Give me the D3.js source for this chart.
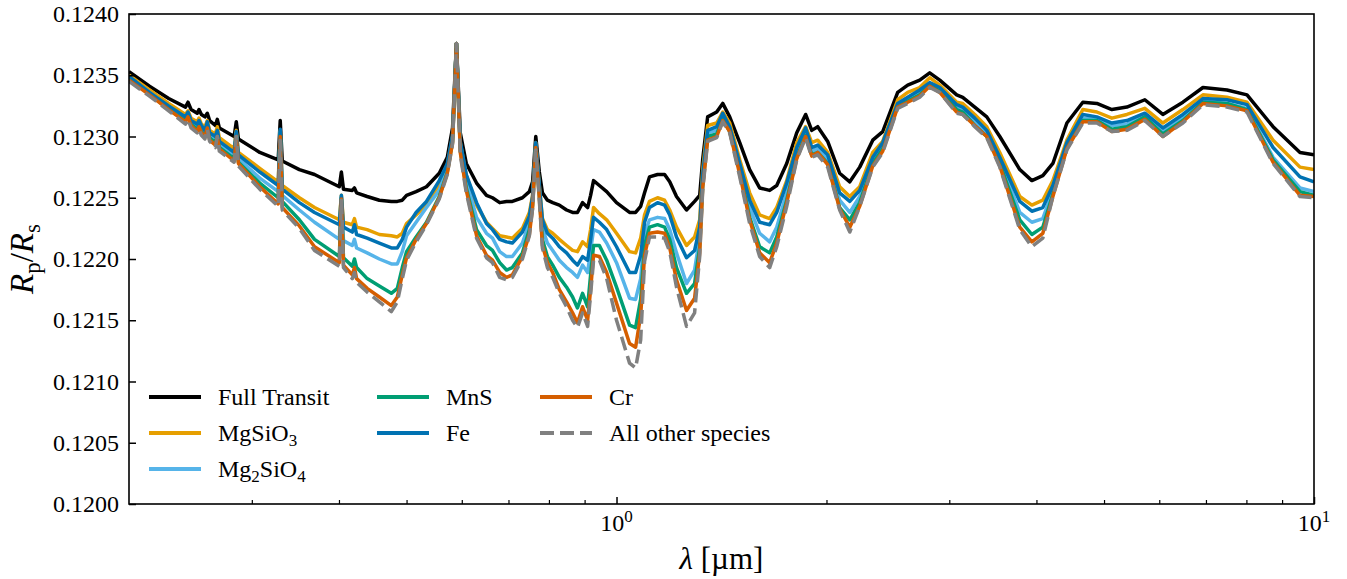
<!DOCTYPE html>
<html>
<head>
<meta charset="utf-8">
<script src="https://cdn.jsdelivr.net/npm/d3@7"></script>
<style>
  body { margin: 0; background: #fff; }
  svg text { font-family: "Liberation Serif", "Times New Roman", serif; fill: #000; }
</style>
</head>
<body>
<svg id="chart" width="1347" height="579"></svg>
<script>
// wavelength grid (micron)
var wavelengths = [0.2, 0.214, 0.228, 0.241, 0.243, 0.2455, 0.2505, 0.252, 0.254, 0.257,
  0.259, 0.261, 0.266, 0.2677, 0.2695, 0.283, 0.285, 0.287, 0.308, 0.3273,
  0.3295, 0.3317, 0.351, 0.369, 0.4005, 0.4032, 0.406, 0.418, 0.421, 0.424,
  0.439, 0.457, 0.4755, 0.485, 0.493, 0.5, 0.516, 0.534, 0.557, 0.572,
  0.582, 0.5895, 0.597, 0.609, 0.63, 0.651, 0.664, 0.68, 0.6955, 0.709,
  0.733, 0.75, 0.758, 0.766, 0.775, 0.783, 0.796, 0.81, 0.828, 0.848,
  0.865, 0.879, 0.894, 0.909, 0.918, 0.927, 0.945, 0.968, 1.0, 1.044,
  1.065, 1.083, 1.097, 1.115, 1.145, 1.172, 1.192, 1.219, 1.26, 1.294,
  1.316, 1.329, 1.351, 1.392, 1.42, 1.453, 1.502, 1.552, 1.604, 1.658,
  1.697, 1.754, 1.813, 1.867, 1.905, 1.943, 2.008, 2.089, 2.16, 2.232,
  2.33, 2.408, 2.53, 2.615, 2.721, 2.812, 2.907, 3.074, 3.136, 3.263,
  3.395, 3.544, 3.786, 3.94, 4.085, 4.223, 4.423, 4.662, 4.883, 5.131,
  5.392, 5.721, 6.071, 6.487, 6.931, 7.503, 8.016, 8.736, 9.548, 10.0];

var fullTransit = [0.12353, 0.12341, 0.12331, 0.12324, 0.12328, 0.12322, 0.12319, 0.12322, 0.12318, 0.12316,
  0.12319, 0.12313, 0.12309, 0.12314, 0.12307, 0.12300, 0.12312, 0.12298, 0.12287, 0.12281,
  0.12313, 0.12280, 0.12273, 0.12269, 0.12259, 0.12271, 0.12257, 0.12256, 0.12258, 0.12254,
  0.12251, 0.12248, 0.12247, 0.12247, 0.12248, 0.12252, 0.12255, 0.12259, 0.12270, 0.12283,
  0.12307, 0.12376, 0.12303, 0.12278, 0.12262, 0.12252, 0.12250, 0.12246, 0.12247, 0.12247,
  0.12250, 0.12255, 0.12263, 0.12300, 0.12271, 0.12254, 0.12248, 0.12246, 0.12244, 0.12240,
  0.12238, 0.12238, 0.12246, 0.12242, 0.12252, 0.12264, 0.12260, 0.12255, 0.12246, 0.12238,
  0.12238, 0.12243, 0.12254, 0.12267, 0.12269, 0.12269, 0.12263, 0.12251, 0.12240, 0.12247,
  0.12252, 0.12281, 0.12316, 0.12320, 0.12327, 0.12316, 0.12295, 0.12273, 0.12258, 0.12256,
  0.12260, 0.12278, 0.12303, 0.12318, 0.12305, 0.12308, 0.12296, 0.12270, 0.12263, 0.12275,
  0.12297, 0.12304, 0.12336, 0.12342, 0.12346, 0.12352, 0.12346, 0.12334, 0.12332, 0.12324,
  0.12316, 0.12300, 0.12273, 0.12264, 0.12268, 0.12278, 0.12311, 0.12328, 0.12327, 0.12322,
  0.12324, 0.12330, 0.12318, 0.12328, 0.12340, 0.12338, 0.12334, 0.12308, 0.12287, 0.12285];

var mgsio3 = [0.12350, 0.12338, 0.12327, 0.12318, 0.12321, 0.12315, 0.12312, 0.12315, 0.12310, 0.12308,
  0.12313, 0.12305, 0.12302, 0.12308, 0.12299, 0.12290, 0.12305, 0.12287, 0.12274, 0.12263,
  0.12305, 0.12260, 0.12250, 0.12242, 0.12232, 0.12252, 0.12230, 0.12228, 0.12233, 0.12226,
  0.12224, 0.12220, 0.12219, 0.12218, 0.12221, 0.12229, 0.12236, 0.12244, 0.12261, 0.12277,
  0.12300, 0.12376, 0.12295, 0.12268, 0.12244, 0.12230, 0.12225, 0.12219, 0.12218, 0.12217,
  0.12225, 0.12238, 0.12252, 0.12295, 0.12260, 0.12233, 0.12224, 0.12221, 0.12216, 0.12211,
  0.12207, 0.12206, 0.12214, 0.12210, 0.12224, 0.12242, 0.12237, 0.12232, 0.12221, 0.12206,
  0.12205, 0.12217, 0.12236, 0.12247, 0.12250, 0.12248, 0.12240, 0.12226, 0.12211, 0.12218,
  0.12232, 0.12273, 0.12309, 0.12311, 0.12320, 0.12311, 0.12281, 0.12254, 0.12236, 0.12233,
  0.12242, 0.12264, 0.12295, 0.12308, 0.12295, 0.12297, 0.12287, 0.12259, 0.12251, 0.12259,
  0.12287, 0.12296, 0.12330, 0.12336, 0.12340, 0.12348, 0.12342, 0.12328, 0.12327, 0.12318,
  0.12308, 0.12287, 0.12251, 0.12244, 0.12248, 0.12264, 0.12297, 0.12322, 0.12320, 0.12315,
  0.12318, 0.12323, 0.12311, 0.12322, 0.12334, 0.12332, 0.12328, 0.12297, 0.12275, 0.12273];

var mg2sio4 = [0.12348, 0.12336, 0.12324, 0.12314, 0.12318, 0.12312, 0.12309, 0.12312, 0.12307, 0.12304,
  0.12309, 0.12301, 0.12297, 0.12303, 0.12294, 0.12284, 0.12303, 0.12282, 0.12266, 0.12255,
  0.12304, 0.12252, 0.12240, 0.12230, 0.12216, 0.12251, 0.12215, 0.12211, 0.12216, 0.12209,
  0.12205, 0.12200, 0.12196, 0.12196, 0.12206, 0.12219, 0.12230, 0.12242, 0.12256, 0.12274,
  0.12298, 0.12376, 0.12292, 0.12264, 0.12234, 0.12221, 0.12217, 0.12206, 0.12202, 0.12202,
  0.12213, 0.12230, 0.12248, 0.12293, 0.12256, 0.12225, 0.12213, 0.12207, 0.12199, 0.12193,
  0.12189, 0.12185, 0.12195, 0.12189, 0.12207, 0.12224, 0.12222, 0.12213, 0.12197, 0.12168,
  0.12167, 0.12184, 0.12220, 0.12232, 0.12234, 0.12233, 0.12224, 0.12205, 0.12180, 0.12191,
  0.12218, 0.12264, 0.12303, 0.12305, 0.12317, 0.12306, 0.12276, 0.12242, 0.12221, 0.12214,
  0.12226, 0.12254, 0.12287, 0.12304, 0.12287, 0.12291, 0.12281, 0.12248, 0.12238, 0.12251,
  0.12281, 0.12291, 0.12326, 0.12331, 0.12336, 0.12343, 0.12338, 0.12323, 0.12322, 0.12312,
  0.12302, 0.12281, 0.12238, 0.12230, 0.12233, 0.12256, 0.12292, 0.12315, 0.12314, 0.12309,
  0.12310, 0.12318, 0.12304, 0.12315, 0.12329, 0.12327, 0.12323, 0.12283, 0.12258, 0.12255];

var mns = [0.12347, 0.12335, 0.12322, 0.12313, 0.12317, 0.12310, 0.12306, 0.12309, 0.12304, 0.12301,
  0.12308, 0.12299, 0.12295, 0.12301, 0.12291, 0.12282, 0.12302, 0.12279, 0.12262, 0.12250,
  0.12303, 0.12247, 0.12232, 0.12216, 0.12202, 0.12250, 0.12201, 0.12194, 0.12200, 0.12193,
  0.12184, 0.12178, 0.12172, 0.12176, 0.12193, 0.12206, 0.12218, 0.12230, 0.12251, 0.12271,
  0.12296, 0.12376, 0.12289, 0.12258, 0.12224, 0.12211, 0.12207, 0.12197, 0.12191, 0.12193,
  0.12205, 0.12224, 0.12244, 0.12291, 0.12252, 0.12216, 0.12202, 0.12195, 0.12185, 0.12177,
  0.12169, 0.12160, 0.12172, 0.12161, 0.12187, 0.12211, 0.12211, 0.12199, 0.12177, 0.12146,
  0.12144, 0.12167, 0.12211, 0.12226, 0.12228, 0.12226, 0.12216, 0.12193, 0.12172, 0.12180,
  0.12210, 0.12260, 0.12300, 0.12302, 0.12315, 0.12304, 0.12272, 0.12234, 0.12210, 0.12205,
  0.12218, 0.12248, 0.12283, 0.12301, 0.12285, 0.12287, 0.12278, 0.12242, 0.12232, 0.12246,
  0.12278, 0.12290, 0.12325, 0.12329, 0.12334, 0.12342, 0.12337, 0.12322, 0.12320, 0.12309,
  0.12300, 0.12278, 0.12232, 0.12220, 0.12226, 0.12253, 0.12291, 0.12313, 0.12313, 0.12306,
  0.12308, 0.12316, 0.12302, 0.12313, 0.12328, 0.12327, 0.12322, 0.12281, 0.12255, 0.12252];

var fe = [0.12349, 0.12336, 0.12325, 0.12316, 0.12320, 0.12313, 0.12310, 0.12313, 0.12309, 0.12305,
  0.12312, 0.12303, 0.12300, 0.12305, 0.12296, 0.12287, 0.12304, 0.12285, 0.12271, 0.12260,
  0.12306, 0.12257, 0.12246, 0.12238, 0.12228, 0.12252, 0.12226, 0.12222, 0.12228, 0.12220,
  0.12217, 0.12213, 0.12209, 0.12209, 0.12216, 0.12226, 0.12238, 0.12247, 0.12264, 0.12278,
  0.12301, 0.12376, 0.12296, 0.12269, 0.12246, 0.12229, 0.12224, 0.12216, 0.12214, 0.12213,
  0.12222, 0.12235, 0.12251, 0.12295, 0.12260, 0.12232, 0.12221, 0.12217, 0.12210, 0.12205,
  0.12199, 0.12195, 0.12202, 0.12199, 0.12216, 0.12234, 0.12230, 0.12224, 0.12210, 0.12189,
  0.12189, 0.12203, 0.12230, 0.12242, 0.12246, 0.12244, 0.12236, 0.12218, 0.12201, 0.12207,
  0.12226, 0.12269, 0.12305, 0.12308, 0.12319, 0.12308, 0.12278, 0.12248, 0.12230, 0.12228,
  0.12238, 0.12262, 0.12291, 0.12307, 0.12291, 0.12293, 0.12285, 0.12254, 0.12247, 0.12256,
  0.12283, 0.12295, 0.12327, 0.12332, 0.12338, 0.12344, 0.12340, 0.12326, 0.12324, 0.12315,
  0.12305, 0.12283, 0.12247, 0.12239, 0.12242, 0.12260, 0.12295, 0.12318, 0.12316, 0.12311,
  0.12313, 0.12319, 0.12307, 0.12318, 0.12331, 0.12330, 0.12326, 0.12291, 0.12267, 0.12263];

var cr = [0.12346, 0.12334, 0.12322, 0.12312, 0.12316, 0.12309, 0.12304, 0.12308, 0.12303, 0.12300,
  0.12307, 0.12297, 0.12293, 0.12300, 0.12290, 0.12280, 0.12300, 0.12278, 0.12259, 0.12245,
  0.12300, 0.12242, 0.12227, 0.12210, 0.12197, 0.12249, 0.12195, 0.12187, 0.12193, 0.12184,
  0.12176, 0.12169, 0.12162, 0.12169, 0.12187, 0.12201, 0.12216, 0.12229, 0.12250, 0.12270,
  0.12295, 0.12376, 0.12287, 0.12256, 0.12219, 0.12203, 0.12199, 0.12189, 0.12185, 0.12187,
  0.12202, 0.12220, 0.12242, 0.12291, 0.12250, 0.12211, 0.12197, 0.12189, 0.12175, 0.12165,
  0.12156, 0.12148, 0.12161, 0.12150, 0.12175, 0.12203, 0.12202, 0.12189, 0.12164, 0.12131,
  0.12128, 0.12154, 0.12203, 0.12221, 0.12222, 0.12221, 0.12209, 0.12183, 0.12158, 0.12168,
  0.12205, 0.12258, 0.12297, 0.12300, 0.12313, 0.12304, 0.12269, 0.12232, 0.12205, 0.12197,
  0.12213, 0.12246, 0.12282, 0.12300, 0.12284, 0.12287, 0.12277, 0.12241, 0.12226, 0.12243,
  0.12276, 0.12288, 0.12324, 0.12328, 0.12333, 0.12341, 0.12336, 0.12320, 0.12318, 0.12309,
  0.12300, 0.12276, 0.12226, 0.12214, 0.12221, 0.12251, 0.12290, 0.12312, 0.12312, 0.12304,
  0.12306, 0.12314, 0.12300, 0.12312, 0.12327, 0.12325, 0.12321, 0.12279, 0.12252, 0.12251];

var allOther = [0.12345, 0.12333, 0.12321, 0.12310, 0.12314, 0.12307, 0.12303, 0.12306, 0.12301, 0.12298,
  0.12306, 0.12296, 0.12291, 0.12300, 0.12288, 0.12279, 0.12300, 0.12276, 0.12257, 0.12243,
  0.12297, 0.12240, 0.12225, 0.12207, 0.12194, 0.12248, 0.12193, 0.12184, 0.12189, 0.12181,
  0.12173, 0.12165, 0.12157, 0.12165, 0.12184, 0.12199, 0.12214, 0.12228, 0.12249, 0.12269,
  0.12294, 0.12376, 0.12285, 0.12254, 0.12217, 0.12201, 0.12197, 0.12185, 0.12183, 0.12185,
  0.12200, 0.12219, 0.12241, 0.12289, 0.12248, 0.12209, 0.12193, 0.12185, 0.12172, 0.12161,
  0.12150, 0.12144, 0.12156, 0.12145, 0.12171, 0.12199, 0.12199, 0.12184, 0.12150, 0.12115,
  0.12111, 0.12134, 0.12198, 0.12218, 0.12218, 0.12217, 0.12206, 0.12177, 0.12145, 0.12156,
  0.12202, 0.12256, 0.12296, 0.12299, 0.12312, 0.12303, 0.12267, 0.12229, 0.12202, 0.12193,
  0.12210, 0.12243, 0.12281, 0.12299, 0.12283, 0.12285, 0.12275, 0.12240, 0.12222, 0.12243,
  0.12275, 0.12287, 0.12323, 0.12327, 0.12332, 0.12340, 0.12336, 0.12319, 0.12318, 0.12308,
  0.12299, 0.12275, 0.12224, 0.12210, 0.12217, 0.12251, 0.12289, 0.12311, 0.12311, 0.12304,
  0.12305, 0.12313, 0.12300, 0.12311, 0.12326, 0.12324, 0.12320, 0.12278, 0.12251, 0.12250];

var seriesNames = ["Full Transit", "MgSiO_3", "Mg_2SiO_4", "MnS", "Fe", "Cr", "All other species"];
var seriesColors = ["#000000", "#E69F00", "#56B4E9", "#009E73", "#0072B2", "#D55E00", "#808080"];
var seriesValues = [fullTransit, mgsio3, mg2sio4, mns, fe, cr, allOther];

var yTicks = [0.1200, 0.1205, 0.1210, 0.1215, 0.1220, 0.1225, 0.1230, 0.1235, 0.1240];
var xMajorTicks = [1, 10];
var xMajorLabels = [["10", "0"], ["10", "1"]];
var xMinorTicks = [0.3, 0.4, 0.5, 0.6, 0.7, 0.8, 0.9, 2, 3, 4, 5, 6, 7, 8, 9];

var serif = '"Liberation Serif", "Times New Roman", serif';
var plotLeft = 129, plotRight = 1314, plotTop = 14, plotBottom = 504;

var x = d3.scaleLog().domain([0.2, 10]).range([plotLeft, plotRight]);
var y = d3.scaleLinear().domain([0.1200, 0.1240]).range([plotBottom, plotTop]);

var svg = d3.select('#chart');

svg.append('defs').append('clipPath').attr('id', 'plotClip')
  .append('rect')
  .attr('x', plotLeft).attr('y', plotTop)
  .attr('width', plotRight - plotLeft).attr('height', plotBottom - plotTop);

// lines
var line = d3.line()
  .x(function (d) { return x(d[0]); })
  .y(function (d) { return y(d[1]); });

var lineGroup = svg.append('g').attr('clip-path', 'url(#plotClip)');

seriesValues.forEach(function (vals, i) {
  var pts = wavelengths.map(function (w, k) { return [w, vals[k]]; });
  lineGroup.append('path')
    .datum(pts)
    .attr('d', line)
    .attr('fill', 'none')
    .attr('stroke', seriesColors[i])
    .attr('stroke-width', 3.5)
    .attr('stroke-linejoin', 'round')
    .attr('stroke-dasharray', i === 6 ? '14,6' : null);
});

// y axis (ticks pointing inward)
var yAxis = svg.append('g')
  .attr('transform', 'translate(' + plotLeft + ',0)')
  .call(d3.axisLeft(y).tickValues(yTicks).tickSize(-7).tickPadding(10)
    .tickFormat(d3.format('.4f')));
yAxis.attr('font-family', null).attr('font-size', null);
yAxis.select('.domain').remove();
yAxis.selectAll('line').attr('stroke', '#000').attr('stroke-width', 1.5);
yAxis.selectAll('text')
  .style('font-family', serif)
  .style('font-size', '24px')
  .style('font-weight', 'normal');

// x axis major + minor
var xAxis = svg.append('g')
  .attr('transform', 'translate(0,' + plotBottom + ')')
  .call(d3.axisBottom(x).tickValues(xMajorTicks).tickSize(-7).tickFormat(''));
xAxis.select('.domain').remove();
xAxis.selectAll('line').attr('stroke', '#000').attr('stroke-width', 1.5);

var xMinor = svg.append('g')
  .attr('transform', 'translate(0,' + plotBottom + ')')
  .call(d3.axisBottom(x).tickValues(xMinorTicks).tickSize(-4).tickFormat(''));
xMinor.select('.domain').remove();
xMinor.selectAll('line').attr('stroke', '#000').attr('stroke-width', 1.2);

xMajorTicks.forEach(function (v, i) {
  var t = svg.append('text')
    .attr('x', x(v))
    .attr('y', 531)
    .attr('text-anchor', 'middle')
    .style('font-size', '24px');
  t.append('tspan').text(xMajorLabels[i][0]);
  t.append('tspan').style('font-size', '17px').attr('dy', -9).text(xMajorLabels[i][1]);
});

// frame
svg.append('rect')
  .attr('x', plotLeft).attr('y', plotTop)
  .attr('width', plotRight - plotLeft).attr('height', plotBottom - plotTop)
  .attr('fill', 'none')
  .attr('stroke', '#000')
  .attr('stroke-width', 1.6);

// axis labels
var xl = svg.append('text')
  .attr('x', (plotLeft + plotRight) / 2)
  .attr('y', 569)
  .attr('text-anchor', 'middle')
  .style('font-size', '31px');
xl.append('tspan').style('font-style', 'italic').text('λ');
xl.append('tspan').text(' [µm]');

var yl = svg.append('text')
  .attr('transform', 'translate(33,' + ((plotTop + plotBottom) / 2) + ') rotate(-90)')
  .attr('text-anchor', 'middle')
  .style('font-size', '33px');
yl.append('tspan').style('font-style', 'italic').text('R');
yl.append('tspan').style('font-size', '23px').attr('dy', 7).text('p');
yl.append('tspan').attr('dy', -7).text('/');
yl.append('tspan').style('font-style', 'italic').text('R');
yl.append('tspan').style('font-size', '23px').attr('dy', 7).text('s');

// legend
var colX = [149, 377, 540];
var rowY = [397, 433, 469];

function addLabel(sel, name) {
  // "_3" style parts become subscripts
  var parts = name.split(/(_\d)/);
  var shifted = false;
  parts.forEach(function (p) {
    if (p === '') return;
    if (p.charAt(0) === '_') {
      sel.append('tspan').style('font-size', '17px').attr('dy', 5).text(p.charAt(1));
      shifted = true;
    } else {
      var ts = sel.append('tspan').text(p);
      if (shifted) { ts.attr('dy', -5); shifted = false; }
    }
  });
}

seriesNames.forEach(function (name, i) {
  var col = i < 3 ? 0 : (i < 5 ? 1 : 2);
  var row = i < 3 ? i : (i - 3) % 2;
  var lx = colX[col], ly = rowY[row];
  svg.append('line')
    .attr('x1', lx).attr('x2', lx + 52)
    .attr('y1', ly).attr('y2', ly)
    .attr('stroke', seriesColors[i])
    .attr('stroke-width', 4)
    .attr('stroke-dasharray', i === 6 ? '14,6' : null);
  var t = svg.append('text')
    .attr('x', lx + 69)
    .attr('y', ly + 8)
    .style('font-size', '24px');
  addLabel(t, name);
});
</script>
</body>
</html>
